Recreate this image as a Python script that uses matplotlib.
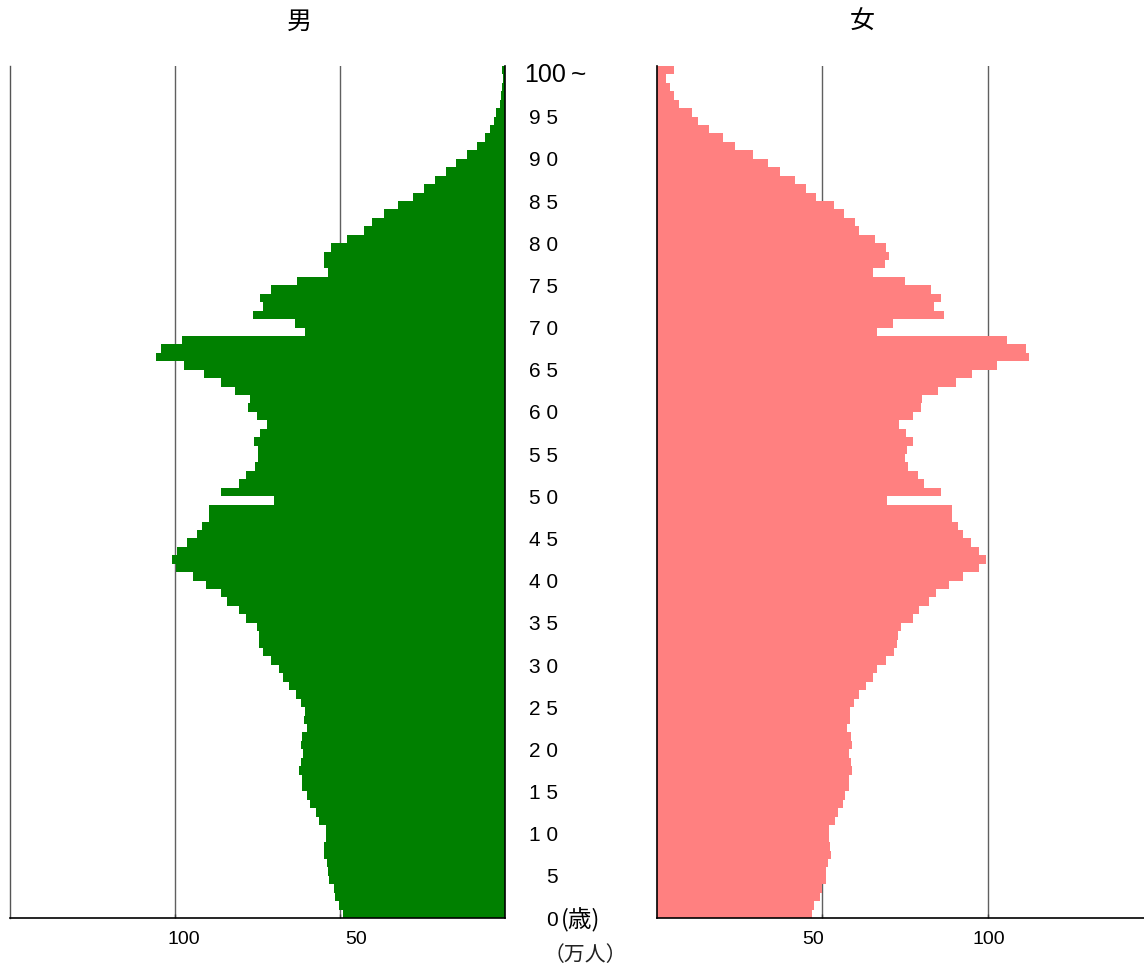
import matplotlib
matplotlib.use("Agg")
import matplotlib.pyplot as plt
import matplotlib.transforms as mtransforms
from matplotlib import font_manager

ages = list(range(0, 101))

# male population (10,000 persons) by age, 0 .. 100+
male = [49.0, 50.2, 51.4, 51.7, 53.2, 53.5, 53.8, 55.0, 54.7, 54.2,
        54.2, 56.3, 57.2, 59.0, 59.9, 61.4, 61.4, 62.4, 61.8, 61.1,
        61.8, 61.4, 59.9, 60.8, 60.5, 61.8, 63.3, 65.4, 67.2, 68.4,
        70.8, 73.2, 74.4, 74.4, 75.3, 78.6, 80.7, 84.1, 86.2, 90.5,
        94.4, 99.8, 101.0, 99.5, 96.5, 93.4, 91.9, 89.8, 89.8, 70.0,
        86.2, 80.7, 78.6, 75.9, 74.7, 75.0, 76.2, 74.1, 72.0, 75.3,
        78.0, 77.4, 81.9, 86.2, 91.1, 97.2, 105.9, 104.1, 98.0, 60.5,
        63.5, 76.5, 73.2, 74.1, 70.8, 62.9, 53.5, 55.0, 54.7, 52.6,
        47.8, 42.6, 40.2, 36.6, 32.3, 27.8, 24.5, 21.2, 17.8, 14.8,
        11.4, 8.4, 6.0, 4.5, 3.2, 2.6, 1.4, 1.1, 0.8, 0.6,
        0.8]

# female population (10,000 persons) by age, 0 .. 100+
female = [46.8, 47.4, 49.2, 49.8, 51.0, 51.0, 51.6, 52.5, 52.2, 51.9,
          51.9, 53.7, 54.6, 56.1, 57.0, 58.2, 58.2, 59.1, 58.8, 58.2,
          59.1, 58.8, 57.6, 58.5, 58.5, 59.7, 61.2, 63.3, 65.2, 66.4,
          69.4, 71.8, 72.7, 73.0, 73.9, 77.3, 79.1, 82.4, 84.5, 88.4,
          92.4, 97.5, 99.6, 97.5, 95.1, 92.4, 90.9, 89.1, 89.1, 69.7,
          86.0, 80.6, 78.8, 76.0, 75.1, 75.7, 77.3, 75.4, 73.3, 77.3,
          79.7, 80.0, 85.1, 90.3, 95.4, 102.7, 112.6, 111.7, 105.7, 66.4,
          71.5, 86.9, 83.9, 86.0, 83.0, 75.1, 65.2, 69.1, 70.3, 69.4,
          65.8, 61.2, 60.0, 56.7, 53.4, 48.2, 45.2, 41.6, 37.3, 33.7,
          28.9, 23.7, 20.1, 15.8, 12.5, 10.7, 6.8, 5.2, 4.0, 2.8,
          5.2]

xticks = [50, 100]
xtick_labels = ["50", "100"]
age_labels = {a: (" ".join(str(a)) if a < 100 else "100") for a in range(0, 101, 5)}

W, H = 1144, 974
fig = plt.figure(figsize=(W / 100, H / 100), dpi=100)

cjk = "Noto Sans CJK JP"
names = {f.name for f in font_manager.fontManager.ttflist}
narrow = "Liberation Sans Narrow" if "Liberation Sans Narrow" in names else "Liberation Sans"

bottom = 1 - 918 / H
height = (918 - 66) / H

# left (male) axes
ax1 = fig.add_axes([10 / W, bottom, (505 - 10) / W, height])
ax1.barh(ages, male, height=1.0, color="#008000", linewidth=0, zorder=2)
ax1.set_xlim(150, 0)
ax1.set_ylim(-0.5, 100.5)

# right (female) axes
ax2 = fig.add_axes([657 / W, bottom, (1153 - 657) / W, height])
ax2.barh(ages, female, height=1.0, color="#FF8080", linewidth=0, zorder=2)
ax2.set_xlim(0, 150)
ax2.set_ylim(-0.5, 100.5)

for ax in (ax1, ax2):
    for v in xticks:
        ax.axvline(v, color="#606060", linewidth=1.0, zorder=1)
    ax.set_yticks([])
    ax.set_xticks(xticks)
    ax.set_xticklabels(xtick_labels, fontsize=14, family="Liberation Sans")
    ax.tick_params(axis="x", direction="in", length=3, width=1, pad=9, color="#404040")
    ax.spines["top"].set_visible(False)
    ax.spines["bottom"].set_color("black")
    ax.spines["bottom"].set_linewidth(1.2)

# nudge tick labels horizontally as in the reference
offsets = {ax1: [16, 9], ax2: [-9, 1]}
for ax, offs in offsets.items():
    for lab, dx in zip(ax.get_xticklabels(), offs):
        lab.set_transform(lab.get_transform() +
                          mtransforms.ScaledTranslation(dx / 100, 0, fig.dpi_scale_trans))

ax1.spines["left"].set_color("#555555")
ax1.spines["left"].set_linewidth(1.0)
ax1.spines["right"].set_color("black")
ax1.spines["right"].set_linewidth(1.2)
ax1.spines["right"].set_zorder(3)
ax2.spines["right"].set_visible(False)
ax2.spines["left"].set_color("black")
ax2.spines["left"].set_linewidth(1.2)
ax2.spines["left"].set_zorder(3)

# age labels in the middle
tr = mtransforms.blended_transform_factory(fig.transFigure, ax1.transData)
for a, lab in age_labels.items():
    if a == 100:
        fig.text(566 / W, a - 0.55, lab, transform=tr, ha="right", va="center",
                 fontsize=18, family=[narrow, cjk])
        fig.text(571 / W, a - 0.55, "~", transform=tr, ha="left", va="center",
                 fontsize=19, family=["Liberation Sans", cjk])
    else:
        fig.text(558 / W, a - 0.75, lab, transform=tr, ha="right", va="center",
                 fontsize=15, family=[narrow, cjk])
fig.text(561 / W, 0 - 0.75, "(歳)", transform=tr, ha="left", va="center",
         fontsize=17, family=[cjk, "DejaVu Sans"])
fig.text(585 / W, 1 - 955 / H, "（万人）", ha="center", va="center",
         fontsize=15, family=[cjk, "DejaVu Sans"], color="#222222")

# titles
fig.text(299 / W, 1 - 22 / H, "男", ha="center", va="center", fontsize=18, family=[cjk])
fig.text(862 / W, 1 - 22 / H, "女", ha="center", va="center", fontsize=18, family=[cjk])

fig.savefig("out.png", dpi=100)
